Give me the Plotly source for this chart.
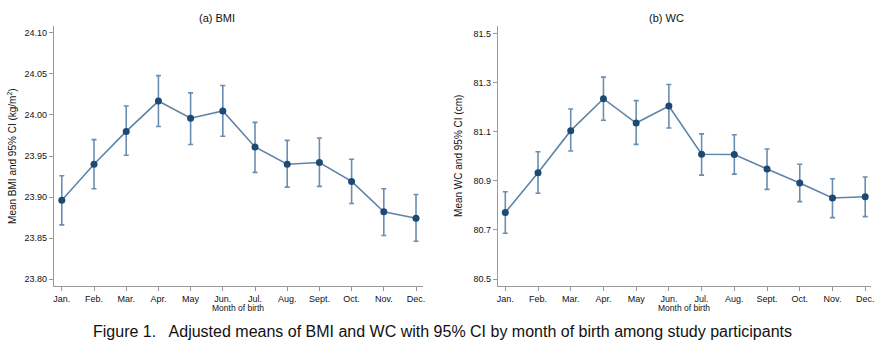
import plotly.graph_objects as go

months = ["Jan.", "Feb.", "Mar.", "Apr.", "May", "Jun.", "Jul.", "Aug.", "Sept.", "Oct.", "Nov.", "Dec."]

bmi_mean = [23.896, 23.940, 23.980, 24.017, 23.996, 24.005, 23.961, 23.940, 23.942, 23.919, 23.882, 23.874]
bmi_upper = [23.926, 23.970, 24.011, 24.048, 24.027, 24.036, 23.991, 23.969, 23.972, 23.946, 23.910, 23.903]
bmi_lower = [23.866, 23.910, 23.951, 23.986, 23.964, 23.974, 23.930, 23.912, 23.913, 23.892, 23.853, 23.846]

wc_mean = [80.771, 80.933, 81.104, 81.234, 81.135, 81.204, 81.008, 81.007, 80.948, 80.891, 80.830, 80.835]
wc_upper = [80.855, 81.018, 81.192, 81.322, 81.226, 81.292, 81.091, 81.087, 81.029, 80.967, 80.908, 80.915]
wc_lower = [80.686, 80.849, 81.021, 81.146, 81.048, 81.115, 80.923, 80.927, 80.865, 80.815, 80.750, 80.754]

bmi_ticks = [23.80, 23.85, 23.90, 23.95, 24.00, 24.05, 24.10]
wc_ticks = [80.5, 80.7, 80.9, 81.1, 81.3, 81.5]

LINE = "#5f84a6"
MARK = "#1c4a74"
ERR = "#6a8db0"
AX = "#9a9a9a"
FONT = "Liberation Sans, Arial, sans-serif"

fig = go.Figure()

def add(mean, up, lo, xa, ya):
    fig.add_trace(go.Scatter(
        x=months, y=mean, xaxis=xa, yaxis=ya, mode="lines+markers",
        line=dict(color=LINE, width=1.6),
        marker=dict(color=MARK, size=7),
        error_y=dict(type="data", symmetric=False,
                     array=[u - m for u, m in zip(up, mean)],
                     arrayminus=[m - l for m, l in zip(mean, lo)],
                     color=ERR, thickness=1.6, width=2.5),
        showlegend=False))

add(bmi_mean, bmi_upper, bmi_lower, "x", "y")
add(wc_mean, wc_upper, wc_lower, "x2", "y2")

H = 350.0
W = 892.0
ydom = [1 - 286 / H, 1 - 26 / H]

axis_common = dict(showline=True, linecolor=AX, linewidth=1, ticks="outside",
                   ticklen=4, tickcolor=AX, showgrid=False, zeroline=False,
                   tickfont=dict(family=FONT, size=9, color="#111"))

fig.update_layout(
    width=892, height=350, margin=dict(l=0, r=0, t=0, b=0),
    plot_bgcolor="white", paper_bgcolor="white",
    font=dict(family=FONT, color="#111"),
    xaxis=dict(domain=[53 / W, 424 / W], range=[-0.25, 11.22], anchor="y",
               type="category", **axis_common),
    yaxis=dict(domain=ydom, range=[23.7915, 24.1085], anchor="x",
               tickvals=bmi_ticks, ticktext=[f"{v:.2f}" for v in bmi_ticks],
               **axis_common),
    xaxis2=dict(domain=[499 / W, 874 / W], range=[-0.23, 11.18], anchor="y2",
                type="category", **axis_common),
    yaxis2=dict(domain=ydom, range=[80.4715, 81.53], anchor="x2",
                tickvals=wc_ticks, ticktext=[f"{v:.1f}" for v in wc_ticks],
                **axis_common),
)

ann = [
    dict(text="(a) BMI", x=217 / W, y=1 - 18 / H, size=11),
    dict(text="(b) WC", x=668 / W, y=1 - 18 / H, size=11),
    dict(text="Month of birth", x=238.5 / W, y=1 - 308 / H, size=8.5),
    dict(text="Month of birth", x=686.5 / W, y=1 - 308 / H, size=8.5),
    dict(text="Figure 1.   Adjusted means of BMI and WC with 95% CI by month of birth among study participants",
         x=443 / W, y=1 - 331 / H, size=16),
]
for a in ann:
    fig.add_annotation(text=a["text"], x=a["x"], y=a["y"], xref="paper", yref="paper",
                       xanchor="center", yanchor="middle", showarrow=False,
                       font=dict(family=FONT, size=a["size"], color="#111"))

fig.add_annotation(text="Mean BMI and 95% CI (kg/m<sup>2</sup>)", x=11 / W, y=1 - 156 / H,
                   xref="paper", yref="paper", textangle=-90, showarrow=False,
                   xanchor="center", yanchor="middle",
                   font=dict(family=FONT, size=10, color="#111"))
fig.add_annotation(text="Mean WC and 95% CI (cm)", x=459 / W, y=1 - 156 / H,
                   xref="paper", yref="paper", textangle=-90, showarrow=False,
                   xanchor="center", yanchor="middle",
                   font=dict(family=FONT, size=10, color="#111"))

fig.write_html("out.html")
